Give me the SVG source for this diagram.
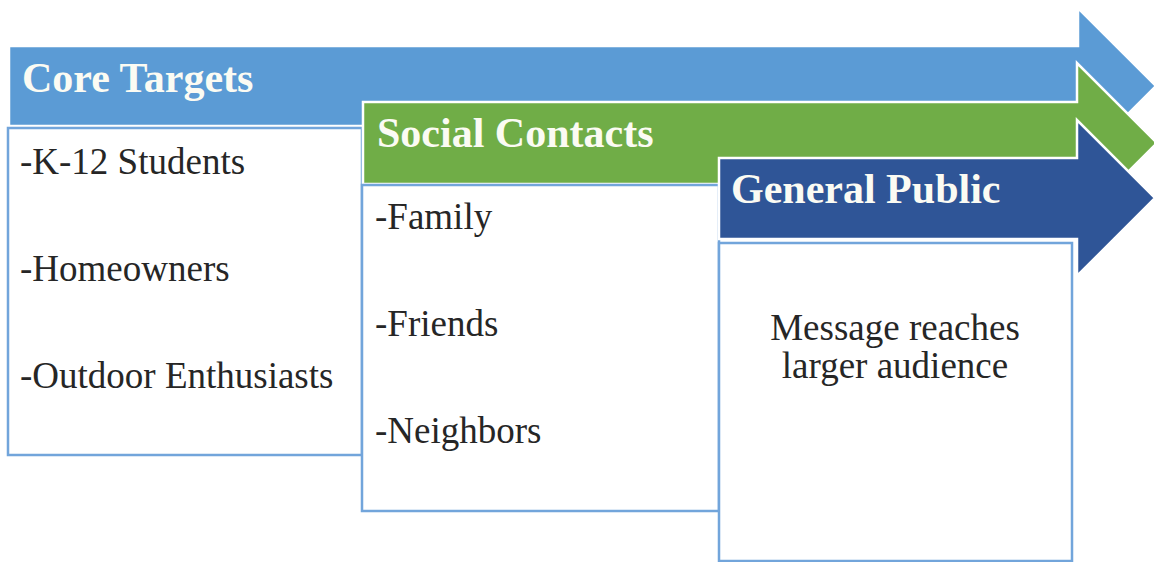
<svg xmlns="http://www.w3.org/2000/svg" width="1154" height="562" viewBox="0 0 1154 562">
  <style>
    .band { stroke: #ffffff; stroke-width: 2.5; stroke-linejoin: miter; }
    .blue { fill: #5b9bd5; }
    .green { fill: #70ad47; }
    .navy { fill: #2f5597; }
    .box { fill: #ffffff; stroke: #72a5db; stroke-width: 2.5; }
    .head { font-family: "Liberation Serif", "Times New Roman", serif; font-weight: bold; font-size: 42px; fill: #fbfbf3; }
    .item { font-family: "Liberation Serif", "Times New Roman", serif; font-size: 37px; fill: #262626; }
  </style>

  <rect width="1154" height="562" fill="#ffffff"/>

  <!-- Tier 1: core targets -->
  <g id="core-targets">
    <polygon class="band blue" points="9,46 1078,46 1078,8 1156,86 1078,164 1078,126 9,126"/>
    <text class="head" x="22" y="92">Core Targets</text>
    <rect class="box" x="8" y="128" width="354" height="327"/>
    <text class="item" x="20" y="174">-K-12 Students</text>
    <text class="item" x="20" y="281">-Homeowners</text>
    <text class="item" x="20" y="388">-Outdoor Enthusiasts</text>
  </g>

  <!-- Tier 2: social contacts -->
  <g id="social-contacts">
    <polygon class="band green" points="363,102 1077,102 1077,63 1157,143 1077,223 1077,184 363,184"/>
    <text class="head" x="377" y="147">Social Contacts</text>
    <rect class="box" x="362" y="185" width="357" height="326"/>
    <text class="item" x="375" y="229">-Family</text>
    <text class="item" x="375" y="336">-Friends</text>
    <text class="item" x="375" y="443">-Neighbors</text>
  </g>

  <!-- Tier 3: general public -->
  <g id="general-public">
    <polygon class="band navy" points="719,158 1077,158 1077,120 1155,198 1077,276 1077,239 719,239"/>
    <text class="head" x="731" y="203">General Public</text>
    <rect class="box" x="719" y="243" width="353" height="318"/>
    <text class="item" x="895" y="340" text-anchor="middle">Message reaches</text>
    <text class="item" x="895" y="378" text-anchor="middle">larger audience</text>
  </g>

  <g id="connectors"/>
</svg>
